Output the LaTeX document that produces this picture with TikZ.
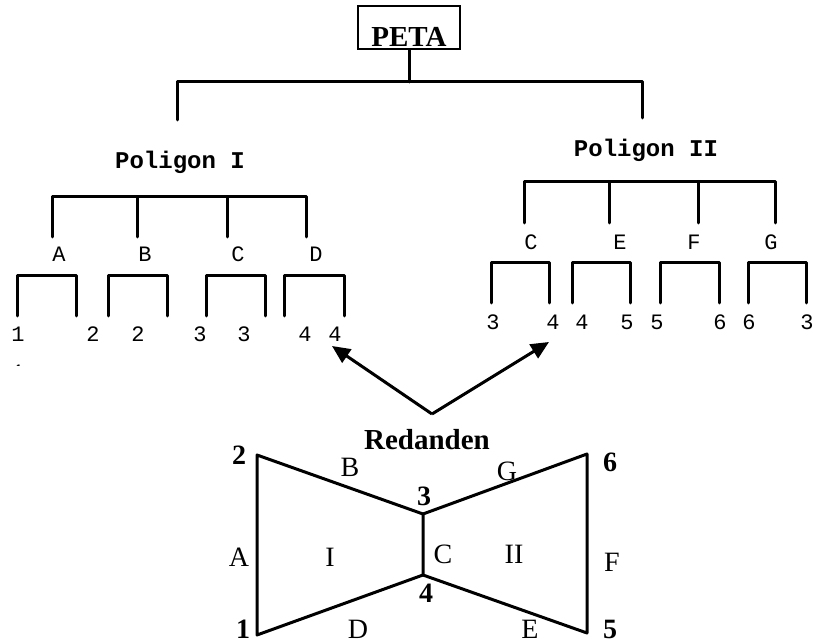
\documentclass[tikz,border=0pt]{standalone}
\usepackage{fontspec}
\setmainfont{Liberation Serif}
\setmonofont{Liberation Mono}
\usetikzlibrary{arrows.meta}
\begin{document}
\begin{tikzpicture}[x=1pt,y=-1pt,
  ln/.style={line width=3pt,line cap=round,line join=round},
  mono/.style={font=\ttfamily\fontsize{22}{22}\selectfont,inner sep=0pt},
  monob/.style={font=\ttfamily\bfseries\fontsize{24}{24}\selectfont,inner sep=0pt},
  ser/.style={font=\fontsize{28}{28}\selectfont,inner sep=0pt},
  sernum/.style={font=\bfseries\fontsize{28}{28}\selectfont,inner sep=0pt},
  arr/.style={line width=3pt,-{Triangle[length=18pt,width=16pt]}}]
\useasboundingbox (0,0) rectangle (815,644);
\begin{scope}
\clip (0,0) rectangle (815,644);
% PETA
\node[draw,line width=2pt,minimum width=102pt,minimum height=43pt,inner sep=0pt] (peta) at (409,27.5) {};
\node[inner sep=0pt,font=\bfseries\fontsize{29}{29}\selectfont,anchor=base] (petat) at (409,47) {PETA};
\coordinate (pj) at (409,82);
\draw[ln] (peta.south) -- (pj);
\draw[ln] (177,120) -- (177,82) -- (642,82) -- (642,118);
% Poligon I
\node[monob] (p1) at (180,162) {Poligon I};
\draw[ln] (52,237) -- (52,197) -- (306,197) -- (306,237);
\draw[ln] (137,197) -- (137,237);
\draw[ln] (227,197) -- (227,237);
\node[mono] (la) at (59,254) {A};
\node[mono] (lb) at (145,254) {B};
\node[mono] (lc) at (238,254) {C};
\node[mono] (ld) at (316,254) {D};
\draw[ln] (17,316) -- (17,276) -- (76,276) -- (76,316);
\draw[ln] (108,316) -- (108,276) -- (167,276) -- (167,316);
\draw[ln] (206,316) -- (206,276) -- (265,276) -- (265,316);
\draw[ln] (284,316) -- (284,276) -- (344,276) -- (344,316);
\node[mono] (n1) at (18,334) {1};
\node[mono] (n2) at (93,334) {2};
\node[mono] (n3) at (138,334) {2};
\node[mono] (n4) at (200,334) {3};
\node[mono] (n5) at (244,334) {3};
\node[mono] (n6) at (305,334) {4};
\node[mono] (n7) at (335,334) {4};
\begin{scope}
\clip (0,356) rectangle (40,366);
\node[mono] (n1b) at (18,372) {1};
\end{scope}
% Poligon II
\node[monob] (p2) at (646,150) {Poligon II};
\draw[ln] (524,223) -- (524,182) -- (775,182) -- (775,223);
\draw[ln] (609,182) -- (609,223);
\draw[ln] (698,182) -- (698,223);
\node[mono] (mc) at (531,242) {C};
\node[mono] (me) at (620,242) {E};
\node[mono] (mf) at (694,242) {F};
\node[mono] (mg) at (771,242) {G};
\draw[ln] (491,303) -- (491,263) -- (549,263) -- (549,303);
\draw[ln] (572,303) -- (572,263) -- (630,263) -- (630,303);
\draw[ln] (660,303) -- (660,263) -- (719,263) -- (719,303);
\draw[ln] (748,303) -- (748,263) -- (806,263) -- (806,303);
\node[mono] (m1) at (493,322) {3};
\node[mono] (m2) at (553,322) {4};
\node[mono] (m3) at (582,322) {4};
\node[mono] (m4) at (627,322) {5};
\node[mono] (m5) at (657,322) {5};
\node[mono] (m6) at (720,322) {6};
\node[mono] (m7) at (749,322) {6};
\node[mono] (m8) at (807,322) {3};
% arrows
\coordinate (apex) at (432,414);
\coordinate (tl) at (332,346);
\coordinate (tr) at (549,342);
\draw[arr] (apex) -- (tl);
\draw[arr] (apex) -- (tr);
% Redanden
\node[inner sep=0pt,font=\bfseries\fontsize{29}{29}\selectfont] (red) at (427,440) {Redanden};
\coordinate (v1) at (257,635);
\coordinate (v2) at (257,455);
\coordinate (v3) at (423,514);
\coordinate (v4) at (423,575);
\coordinate (v5) at (587,633);
\coordinate (v6) at (587,454);
\draw[ln,line cap=butt] (v1) -- (v2) -- (v3) -- (v4) -- cycle;
\draw[ln,line cap=butt] (v3) -- (v6) -- (v5) -- (v4);
\node[sernum] (t2) at (239,455) {2};
\node[ser] (tB) at (350,467) {B};
\node[sernum] (t3) at (424,496) {3};
\node[ser] (tG) at (507,471) {G};
\node[sernum] (t6) at (610,462) {6};
\node[ser] (tA) at (239,557) {A};
\node[ser] (tI) at (330,557) {I};
\node[ser] (tC) at (443,554) {C};
\node[ser] (tII) at (514,554) {II};
\node[ser] (tF) at (612,562) {F};
\node[sernum] (t4) at (426,593) {4};
\node[sernum,anchor=base] (t1) at (243,638) {1};
\node[ser,anchor=base] (tD) at (358,638) {D};
\node[ser,anchor=base] (tE) at (530,638) {E};
\node[sernum,anchor=base] (t5) at (610,638) {5};
\end{scope}
\end{tikzpicture}
\end{document}
